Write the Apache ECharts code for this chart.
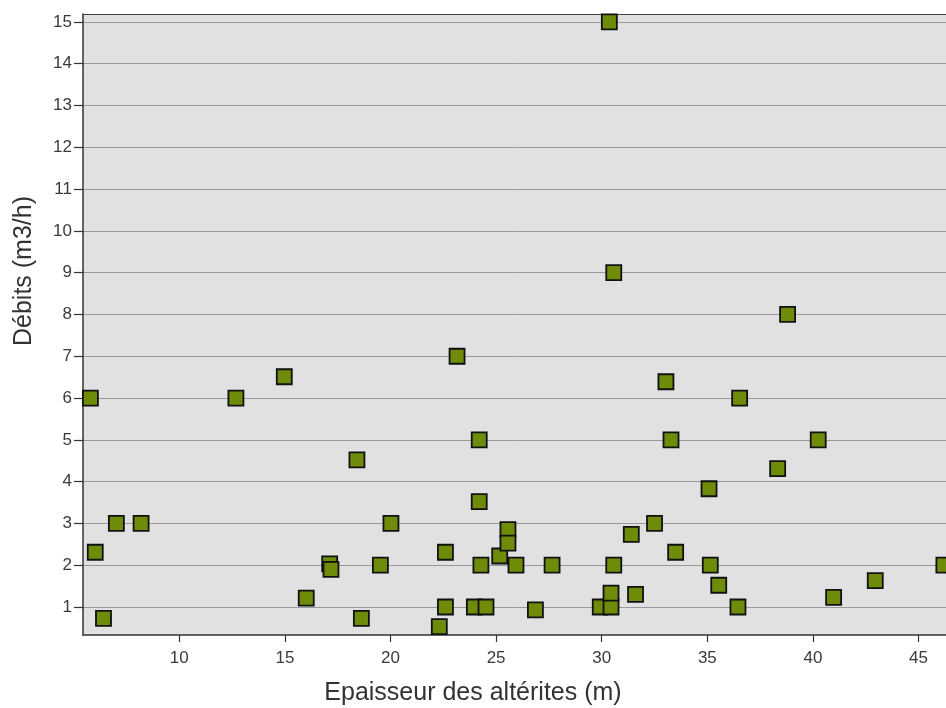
<!DOCTYPE html>
<html>
<head>
<meta charset="utf-8">
<script src="https://cdn.jsdelivr.net/npm/echarts@6/dist/echarts.min.js"></script>
<style>
html,body{margin:0;padding:0;background:#fff;}
#chart{width:946px;height:708px;}
</style>
</head>
<body>
<div id="chart"></div>
<script>
// Epaisseur des altérites (m)
const epaisseur = [5.79, 6.02, 6.41, 7.02, 8.19, 12.68, 14.97, 16.01, 17.12, 17.18,
  18.41, 18.62, 19.52, 20.02, 22.6, 22.6, 22.31, 23.15, 24.2, 24.2,
  24.28, 23.97, 24.52, 25.17, 25.56, 25.56, 25.94, 26.86, 27.65, 29.93,
  30.44, 30.44, 30.57, 30.36, 30.57, 31.4, 31.6, 32.5, 33.04, 33.28,
  33.5, 35.08, 35.14, 35.54, 36.45, 36.53, 38.33, 38.8, 40.25, 40.98,
  42.95, 46.2];
// Débits (m3/h)
const debits = [6.0, 2.31, 0.73, 3.0, 3.0, 6.0, 6.51, 1.21, 2.03, 1.9,
  4.52, 0.73, 2.0, 3.0, 2.31, 1.0, 0.53, 7.0, 5.0, 3.52,
  2.0, 1.0, 1.0, 2.22, 2.85, 2.53, 2.0, 0.93, 2.0, 1.0,
  1.0, 1.33, 2.0, 15.0, 9.0, 2.74, 1.3, 3.0, 6.39, 5.0,
  2.31, 3.83, 2.0, 1.52, 1.0, 6.0, 4.31, 8.0, 5.0, 1.23,
  1.63, 2.0];
const xTicks = [10, 15, 20, 25, 30, 35, 40, 45];
const yTicks = [1,2,3,4,5,6,7,8,9,10,11,12,13,14,15];
const xTitle = 'Epaisseur des altérites (m)';
const yTitle = 'Débits (m3/h)';

const points = epaisseur.map((x, i) => [x, debits[i]]);
const font = 'Arial, "Liberation Sans", sans-serif';

const chart = echarts.init(document.getElementById('chart'), null, {renderer: 'canvas'});
chart.setOption({
  animation: false,
  backgroundColor: '#ffffff',
  grid: {
    left: 83, top: 14, width: 863, height: 621,
    show: true, backgroundColor: '#e1e1e1', borderWidth: 0
  },
  xAxis: [{
    type: 'value', min: 5.44, max: 46.3, position: 'bottom',
    axisLine: {show: true, lineStyle: {color: '#333', width: 1.5}},
    axisTick: {show: true, length: 7, lineStyle: {color: '#333', width: 1.2},
      customValues: xTicks},
    axisLabel: {color: '#3a3a3a', fontSize: 17, fontFamily: font, margin: 15,
      customValues: xTicks},
    splitLine: {show: false}
  }, {
    type: 'value', min: 5.44, max: 46.3, position: 'top',
    axisLine: {show: true, lineStyle: {color: '#444', width: 1.2}},
    axisTick: {show: false}, axisLabel: {show: false}, splitLine: {show: false}
  }],
  yAxis: {
    type: 'value', min: 0.33, max: 15.19,
    axisLine: {show: true, lineStyle: {color: '#333', width: 1.5}},
    axisTick: {show: true, length: 9, lineStyle: {color: '#333', width: 1.2},
      customValues: yTicks},
    axisLabel: {color: '#3a3a3a', fontSize: 17, fontFamily: font, margin: 11,
      customValues: yTicks},
    splitLine: {show: true, lineStyle: {color: '#999', width: 1}}
  },
  graphic: [
    {type: 'text', silent: true, x: 473, y: 693,
     style: {text: xTitle, fill: '#333', font: '25px ' + font,
       align: 'center', verticalAlign: 'middle'}},
    {type: 'text', silent: true, x: 24, y: 271, rotation: Math.PI / 2,
     style: {text: yTitle, fill: '#333', font: '25px ' + font,
       align: 'center', verticalAlign: 'middle'}}
  ],
  series: [{
    type: 'scatter',
    xAxisIndex: 0,
    data: points,
    symbol: 'rect',
    symbolSize: 15,
    clip: false,
    itemStyle: {color: '#6e8c0a', borderColor: '#111', borderWidth: 1.8, opacity: 1}
  }]
});
</script>
</body>
</html>
